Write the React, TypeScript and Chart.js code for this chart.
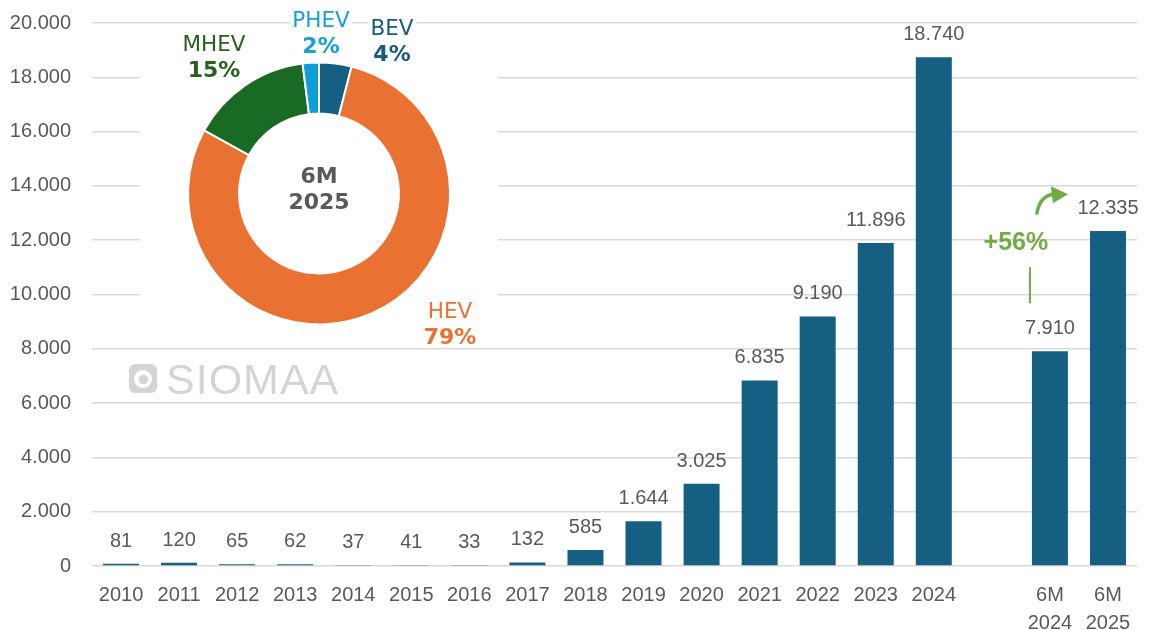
import React, { useEffect, useRef } from "react";
import { Chart, registerables } from "chart.js";

Chart.register(...registerables);

// ---------- data ----------
const categories: (string | string[])[] = [
  "2010", "2011", "2012", "2013", "2014", "2015", "2016", "2017",
  "2018", "2019", "2020", "2021", "2022", "2023", "2024",
  "", ["6M", "2024"], ["6M", "2025"],
];
const salesValues: (number | null)[] = [
  81, 120, 65, 62, 37, 41, 33, 132, 585, 1644, 3025, 6835, 9190, 11896, 18740,
  null, 7910, 12335,
];
const yMin = 0;
const yMax = 20000;
const yStep = 2000;

const mixLabels = ["BEV", "HEV", "MHEV", "PHEV"];
const mixValues = [4, 79, 15, 2];
const mixCenterLines = ["6M", "2025"];
const growthLabel = "+56%";
const watermarkText = "SIOMAA";

// ---------- styles ----------
const BAR_COLOR = "#156082";
const TEXT_GRAY = "#595959";
const GRID = "#D9D9D9";
const MIX_COLORS = ["#156082", "#E97132", "#196B24", "#0F9ED5"];
const MIX_TEXT_COLORS = ["#175B7D", "#E97132", "#275F1E", "#17A0DA"];
const GROWTH_GREEN = "#6EAD45";
const AXIS_FONT = "'Liberation Sans', Arial, sans-serif";
const DONUT_FONT = "'DejaVu Sans', Verdana, sans-serif";

const fmt = (v: number) =>
  String(Math.round(v)).replace(/\B(?=(\d{3})+(?!\d))/g, ".");

export default function App() {
  const mainRef = useRef<HTMLCanvasElement | null>(null);
  const donutRef = useRef<HTMLCanvasElement | null>(null);

  useEffect(() => {
    document.body.style.margin = "0";
    const mainCanvas = mainRef.current!;
    const donutCanvas = donutRef.current!;

    const extras = {
      id: "extras",
      afterDatasetsDraw(chart: any) {
        const ctx = chart.ctx as CanvasRenderingContext2D;
        const meta = chart.getDatasetMeta(0);
        ctx.save();
        // value labels
        ctx.font = `20px ${AXIS_FONT}`;
        ctx.fillStyle = TEXT_GRAY;
        ctx.textAlign = "center";
        ctx.textBaseline = "alphabetic";
        meta.data.forEach((bar: any, i: number) => {
          const v = salesValues[i];
          if (v == null) return;
          ctx.fillText(fmt(v), bar.x, bar.y - 17);
        });

        // watermark
        ctx.fillStyle = "#D4D4D4";
        const lx = 129, ly = 364, lw = 28, lh = 29, r = 6;
        ctx.beginPath();
        ctx.roundRect(lx, ly, lw, lh, r);
        ctx.fill();
        ctx.fillStyle = "#FFFFFF";
        ctx.beginPath();
        ctx.arc(lx + 14, ly + 15, 9, 0, Math.PI * 2);
        ctx.fill();
        ctx.fillStyle = "#D4D4D4";
        ctx.beginPath();
        ctx.arc(lx + 14.5, ly + 15.5, 4.8, 0, Math.PI * 2);
        ctx.fill();
        ctx.font = `43px ${AXIS_FONT}`;
        (ctx as any).letterSpacing = "1px";
        ctx.textAlign = "left";
        ctx.fillText(watermarkText, 166, 394);
        (ctx as any).letterSpacing = "0px";

        // growth annotation
        const b24 = meta.data[16];
        const bx = b24.x;
        const by = b24.y;
        ctx.fillStyle = GROWTH_GREEN;
        ctx.strokeStyle = GROWTH_GREEN;
        ctx.font = `bold 25px ${AXIS_FONT}`;
        ctx.textAlign = "center";
        ctx.fillText(growthLabel, bx - 34, by - 101);
        ctx.lineWidth = 2;
        ctx.beginPath();
        ctx.moveTo(bx - 20, by - 84);
        ctx.lineTo(bx - 20, by - 48);
        ctx.stroke();
        ctx.lineWidth = 3.5;
        ctx.lineCap = "round";
        ctx.beginPath();
        ctx.moveTo(bx - 13, by - 138);
        ctx.quadraticCurveTo(bx - 10, by - 155, bx + 3, by - 157);
        ctx.stroke();
        ctx.beginPath();
        ctx.moveTo(bx + 1, by - 165);
        ctx.lineTo(bx + 18, by - 157);
        ctx.lineTo(bx + 3, by - 148);
        ctx.closePath();
        ctx.fill();
        ctx.restore();
      },
    };

    const main = new Chart(mainCanvas, {
      type: "bar",
      data: {
        labels: categories as any,
        datasets: [
          {
            data: salesValues as any,
            backgroundColor: BAR_COLOR,
            categoryPercentage: 1,
            barPercentage: 0.62,
          },
        ],
      },
      options: {
        responsive: false,
        animation: false,
        layout: { padding: { top: 23, left: 8, right: 12, bottom: 0 } },
        plugins: { legend: { display: false }, tooltip: { enabled: false } },
        scales: {
          x: {
            grid: { display: false, drawTicks: false },
            border: { display: false },
            ticks: {
              color: TEXT_GRAY,
              font: { family: AXIS_FONT, size: 20, lineHeight: 1.4 },
              padding: 15,
              maxRotation: 0,
              autoSkip: false,
            },
            afterFit: (s: any) => {
              s.height = 64;
            },
          },
          y: {
            min: yMin,
            max: yMax,
            grid: { color: GRID, lineWidth: 1.5, drawTicks: false },
            border: { display: false },
            ticks: {
              stepSize: yStep,
              color: TEXT_GRAY,
              font: { family: AXIS_FONT, size: 20 },
              padding: 21,
              callback: (v: any) => fmt(Number(v)),
            },
            afterFit: (s: any) => {
              s.width = 84;
              s.paddingTop = 0;
              s.paddingBottom = 0;
            },
          },
        },
      },
      plugins: [extras],
    });

    const donutDecor = {
      id: "donutDecor",
      beforeDraw(chart: any) {
        const ctx = chart.ctx as CanvasRenderingContext2D;
        ctx.save();
        ctx.fillStyle = "#FFFFFF";
        ctx.fillRect(0, 30, 358, 310);
        ctx.restore();
      },
      afterDraw(chart: any) {
        const ctx = chart.ctx as CanvasRenderingContext2D;
        const meta = chart.getDatasetMeta(0);
        const arc0 = meta.data[0];
        const cx = arc0.x;
        const cy = arc0.y;
        ctx.save();
        ctx.textAlign = "center";
        ctx.textBaseline = "alphabetic";
        // center text
        ctx.fillStyle = TEXT_GRAY;
        ctx.font = `bold 22px ${DONUT_FONT}`;
        ctx.fillText(mixCenterLines[0], cx, cy - 10.5);
        ctx.fillText(mixCenterLines[1], cx, cy + 15.5);
        // slice labels (name + percent), offset from the ring centre
        const offsets: [number, number][] = [
          [73, -166.5],  // BEV
          [131, 116.5],  // HEV
          [-105, -150],  // MHEV
          [2, -174],     // PHEV
        ];
        mixLabels.forEach((name, i) => {
          const x = cx + offsets[i][0];
          const y = cy + offsets[i][1];
          const pct = `${mixValues[i]}%`;
          ctx.font = `21.5px ${DONUT_FONT}`;
          const w1 = ctx.measureText(name).width;
          ctx.font = `bold 22px ${DONUT_FONT}`;
          const w2 = ctx.measureText(pct).width;
          const w = Math.max(w1, w2) + 4;
          ctx.fillStyle = "#FFFFFF";
          ctx.fillRect(x - w / 2, y - 10, w, 48);
          ctx.fillStyle = MIX_TEXT_COLORS[i];
          ctx.font = `21.5px ${DONUT_FONT}`;
          ctx.fillText(name, x, y + 7.8);
          ctx.font = `bold 22px ${DONUT_FONT}`;
          ctx.fillText(pct, x, y + 33.8);
        });
        ctx.restore();
      },
    };

    const donut = new Chart(donutCanvas, {
      type: "doughnut",
      data: {
        labels: mixLabels,
        datasets: [
          {
            data: mixValues,
            backgroundColor: MIX_COLORS,
            borderColor: "#FFFFFF",
            borderWidth: 2,
          },
        ],
      },
      options: {
        responsive: false,
        animation: false,
        cutout: "61%",
        layout: { padding: { left: 47, right: 49, top: 61.5, bottom: 19.5 } },
        plugins: { legend: { display: false }, tooltip: { enabled: false } },
      },
      plugins: [donutDecor],
    });

    return () => {
      main.destroy();
      donut.destroy();
    };
  }, []);

  return (
    <div style={{ position: "relative", width: 1149, height: 630, background: "#FFFFFF" }}>
      <canvas ref={mainRef} width={1149} height={630} style={{ display: "block" }} />
      <canvas
        ref={donutRef}
        width={360}
        height={345}
        style={{ position: "absolute", left: 140, top: 0, display: "block" }}
      />
    </div>
  );
}
